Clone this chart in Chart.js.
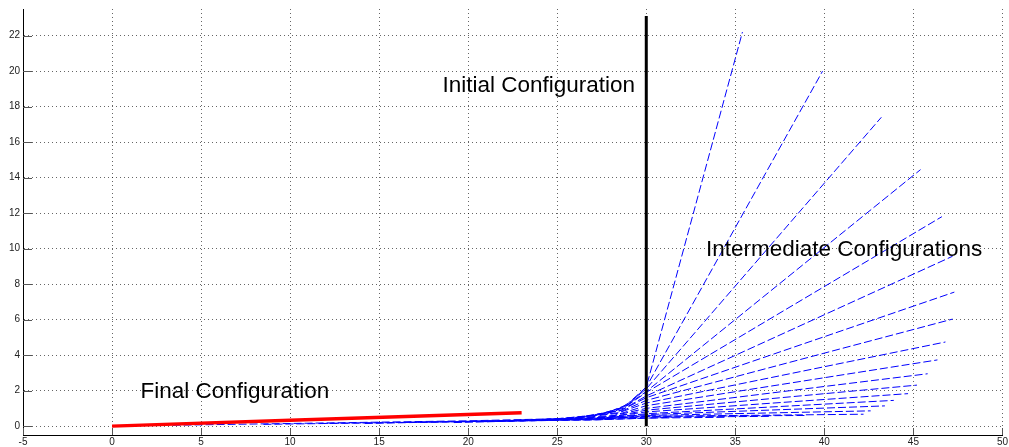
<!DOCTYPE html>
<html>
<head>
<meta charset="utf-8">
<script src="https://cdn.jsdelivr.net/npm/chart.js@4/dist/chart.umd.min.js"></script>
<style>
  html, body { margin: 0; padding: 0; background: #fff; }
  #wrap { width: 1009px; height: 447px; position: relative; }
</style>
</head>
<body>
<div id="wrap"><canvas id="c" width="1009" height="447"></canvas></div>
<script>
// ---- tick values ----
const xTicks = [-5, 0, 5, 10, 15, 20, 25, 30, 35, 40, 45, 50];
const yTicks = [0, 2, 4, 6, 8, 10, 12, 14, 16, 18, 20, 22];

// ---- initial configuration (vertical) ----
const initialX = [30, 30];
const initialY = [0, 23.1];

// ---- final configuration ----
const finalX = [0, 10, 23];
const finalY = [0, 0.33, 0.76];

// ---- intermediate configurations (one polyline each) ----
const interX = [
  [28.2, 29.0, 30, 35.4],
  [27.8, 29.0, 30, 39.9],
  [27.4, 28.9, 30, 43.2],
  [27.0, 28.8, 30, 45.4],
  [26.5, 28.7, 30, 46.6],
  [26.0, 28.6, 30, 47.2],
  [25.4, 28.5, 30, 47.3],
  [24.9, 28.4, 30, 47.2],
  [24.3, 28.3, 30, 46.8],
  [23.6, 28.2, 30, 46.35],
  [23.0, 28.0, 30, 45.8],
  [22.3, 28.0, 30, 45.2],
  [21.7, 27.8, 30, 44.7],
  [20.9, 27.5, 30, 43.9],
  [20.4, 27.5, 30, 43.4],
  [19.6, 27.5, 30, 42.6],
  [19.2, 27.5, 30, 42.2],
  [16.2, 27.0, 30, 39.0],
  [14.2, 27.0, 30, 37.0],
  [11.7, 27.0, 30, 34.5],
  [8.5, 27.0, 30, 31.5],
  [3.4, 20.0, 26.4]
];
const interY = [
  [0.8, 1.3, 2.2, 22.2],
  [0.7, 1.2, 2.2, 20.0],
  [0.6, 1.2, 2.1, 17.4],
  [0.55, 1.1, 1.95, 14.45],
  [0.5, 1.0, 1.9, 11.8],
  [0.45, 0.9, 1.7, 9.57],
  [0.4, 0.85, 1.6, 7.55],
  [0.4, 0.75, 1.45, 6.03],
  [0.35, 0.7, 1.3, 4.74],
  [0.35, 0.6, 1.15, 3.73],
  [0.3, 0.55, 1.0, 2.95],
  [0.3, 0.5, 0.9, 2.31],
  [0.3, 0.5, 0.8, 1.83],
  [0.25, 0.45, 0.7, 1.45],
  [0.25, 0.45, 0.65, 1.14],
  [0.25, 0.4, 0.6, 0.86],
  [0.2, 0.4, 0.55, 0.67],
  [0.2, 0.4, 0.55, 0.6],
  [0.15, 0.4, 0.5, 0.55],
  [0.15, 0.35, 0.45, 0.5],
  [0.1, 0.35, 0.45, 0.5],
  [0.05, 0.3, 0.45]
];

// ---- text annotations ----
const labelTexts = ['Initial Configuration', 'Intermediate Configurations', 'Final Configuration'];
const labelX = [18.55, 33.35, 1.6];
const labelY = [19.2, 9.95, 1.95];

function toPoints(xs, ys) { return xs.map((x, i) => ({ x: x, y: ys[i] })); }

const datasets = [];
datasets.push({ label: 'Final', data: toPoints(finalX, finalY), borderColor: '#ff0000', borderWidth: 3.5 });
datasets.push({ label: 'Initial', data: toPoints(initialX, initialY), borderColor: '#000000', borderWidth: 3 });
interX.forEach((xs, i) => {
  datasets.push({ label: 'Intermediate ' + (i + 1), data: toPoints(xs, interY[i]),
    borderColor: '#0000ff', borderWidth: 1, borderDash: [8, 3] });
});
datasets.forEach(d => { d.showLine = true; d.pointRadius = 0; d.tension = 0; d.fill = false; });

const extras = {
  id: 'extras',
  afterDatasetsDraw(chart) {
    const ctx = chart.ctx, xs = chart.scales.x, ys = chart.scales.y, a = chart.chartArea;
    ctx.save();
    // inward tick marks
    ctx.strokeStyle = '#555';
    ctx.lineWidth = 1;
    ctx.beginPath();
    xTicks.forEach(v => { const px = Math.round(xs.getPixelForValue(v)) + 0.5; ctx.moveTo(px, a.bottom); ctx.lineTo(px, a.bottom - 7); });
    yTicks.forEach(v => { const py = Math.round(ys.getPixelForValue(v)) + 0.5; ctx.moveTo(a.left, py); ctx.lineTo(a.left + 9, py); });
    ctx.stroke();
    // annotations
    ctx.fillStyle = '#000';
    ctx.font = '22.5px "Liberation Sans", Arial, sans-serif';
    ctx.textAlign = 'left';
    ctx.textBaseline = 'middle';
    labelTexts.forEach((t, i) => ctx.fillText(t, xs.getPixelForValue(labelX[i]), ys.getPixelForValue(labelY[i])));
    ctx.restore();
  }
};

new Chart(document.getElementById('c'), {
  type: 'scatter',
  data: { datasets: datasets },
  plugins: [extras],
  options: {
    responsive: false,
    animation: false,
    layout: { padding: { top: 7, right: 5, left: 0, bottom: 0 } },
    plugins: { legend: { display: false }, tooltip: { enabled: false } },
    scales: {
      x: {
        type: 'linear', min: -5, max: 50,
        afterBuildTicks: s => { s.ticks = xTicks.map(v => ({ value: v })); },
        afterFit: s => { s.height = 12; },
        ticks: { font: { family: '"Liberation Sans", Arial', size: 10 }, color: '#222', padding: 1, maxRotation: 0, autoSkip: false },
        grid: { color: 'rgba(0,0,0,0.6)', drawTicks: false, lineWidth: 1 },
        border: { display: true, color: '#000', width: 1, dash: [1, 3] }
      },
      y: {
        type: 'linear', min: -0.5, max: 23.5,
        afterBuildTicks: s => { s.ticks = yTicks.map(v => ({ value: v })); },
        afterFit: s => { s.width = 23; },
        ticks: { font: { family: '"Liberation Sans", Arial', size: 10 }, color: '#222', padding: 3, autoSkip: false },
        grid: { color: 'rgba(0,0,0,0.6)', drawTicks: false, lineWidth: 1 },
        border: { display: true, color: '#000', width: 1, dash: [1, 3] }
      }
    }
  }
});
</script>
</body>
</html>
